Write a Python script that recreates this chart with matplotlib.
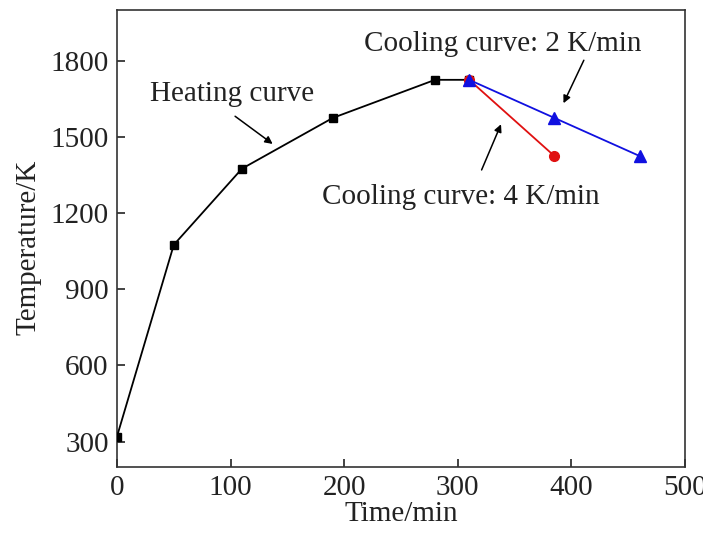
import matplotlib
matplotlib.use("Agg")
import matplotlib.pyplot as plt

heat_t = [0, 50, 110, 190, 280, 310]
heat_T = [320, 1075, 1375, 1575, 1725, 1725]
cool4_t = [310, 385]
cool4_T = [1725, 1425]
cool2_t = [310, 385, 460]
cool2_T = [1725, 1575, 1425]
xticks = [0, 100, 200, 300, 400, 500]
yticks = [300, 600, 900, 1200, 1500, 1800]

plt.rcParams['font.family'] = ['Liberation Serif', 'DejaVu Serif']
FS = 21

fig = plt.figure(figsize=(7.03, 5.35), dpi=100)
ax = fig.add_axes([0.1664, 0.1271, 0.808, 0.8542])

ax.plot(heat_t, heat_T, color='black', lw=1.3, marker='s', ms=6, zorder=3)
ax.plot(cool4_t, cool4_T, color='#e01010', lw=1.3, marker='o', ms=7, zorder=4)
ax.plot(cool2_t, cool2_T, color='#1010e0', lw=1.3, marker='^', ms=8, zorder=5)

ax.set_xlim(0, 500)
ax.set_ylim(200, 2000)
ax.set_xticks(xticks)
ax.set_yticks(yticks)
ax.tick_params(direction='in', length=6, width=1.2, top=False, right=False,
               labelsize=FS, pad=6, colors='#222222')
for s in ax.spines.values():
    s.set_linewidth(1.2)
    s.set_color('#333333')

ax.set_xlabel('Time/min', fontsize=FS, labelpad=0, color='#222222')
ax.set_ylabel('Temperature/K', fontsize=FS, color='#222222')
ax.yaxis.set_label_coords(-0.133, 0.48)

ap = dict(arrowstyle='-|>', color='black', lw=1.1, mutation_scale=11)
ax.annotate('', xy=(139, 1466), xytext=(102, 1588), arrowprops=ap)
ax.text(101, 1668, 'Heating curve', fontsize=FS, ha='center', va='center', color='#222222')
ax.annotate('', xy=(392, 1623), xytext=(412, 1812), arrowprops=ap)
ax.text(340, 1868, 'Cooling curve: 2 K/min', fontsize=FS, ha='center', va='center', color='#222222')
ax.annotate('', xy=(339, 1560), xytext=(320, 1360), arrowprops=ap)
ax.text(303, 1262, 'Cooling curve: 4 K/min', fontsize=FS, ha='center', va='center', color='#222222')

fig.savefig('out.png', dpi=100)
